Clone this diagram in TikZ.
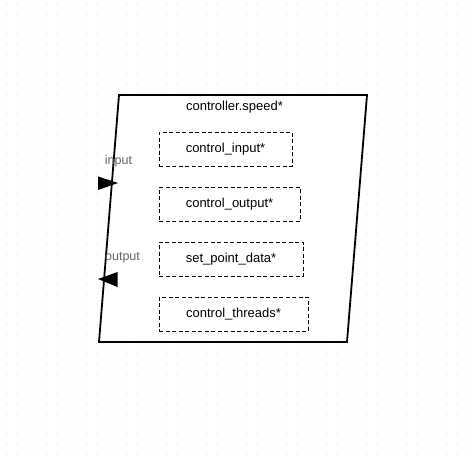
\documentclass[tikz,border=0pt]{standalone}
\usepackage{fontspec}
\setmainfont{Liberation Sans}
\definecolor{dotc}{HTML}{D4D4D4}
\definecolor{labc}{HTML}{666666}
\tikzset{
  member/.style={draw=black, line width=0.9pt, dash pattern=on 4pt off 2.5pt, minimum height=34pt, inner sep=0pt, font=\fontsize{13}{15}\selectfont},
  frame/.style={draw=black, line width=1.8pt, fill=white},
  portlab/.style={text=labc, font=\fontsize{12.5}{14}\selectfont, inner sep=0pt},
  title/.style={font=\fontsize{13}{15}\selectfont, inner sep=0pt},
  port/.style={fill=black}
}
\begin{document}
\begin{tikzpicture}[x=1pt,y=-1pt]
\useasboundingbox (0,0) rectangle (470,455);
\fill[white] (0,0) rectangle (470,455);
\foreach \i in {0,...,46} {\foreach \j in {0,...,45} {\fill[dotc] (7+10*\i,4+10*\j) circle (0.65);}}
% frame
\coordinate (tl) at (119,95);
\coordinate (tr) at (367,95);
\coordinate (br) at (347,342);
\coordinate (bl) at (99,342);
\draw[frame] (tl) -- (tr) -- (br) -- (bl) -- cycle;
\node[title] (ttl) at (234.5,107.5) {controller.speed*};
% members
\node[member, minimum width=133pt] (m1) at (225.5,149) {control\_input*};
\node[member, minimum width=141pt] (m2) at (229.5,204) {control\_output*};
\node[member, minimum width=144pt] (m3) at (231,259) {set\_point\_data*};
\node[member, minimum width=149pt] (m4) at (233.5,314) {control\_threads*};
% ports
\node[portlab] (lin) at (118.5,161) {input};
\node[portlab] (lout) at (122.5,257.5) {output};
\coordinate (pin1) at (98,176.5);
\coordinate (pin2) at (98,190);
\coordinate (pintip) at (118,183);
\fill[port] (pin1) -- (pintip) -- (pin2) -- cycle;
\coordinate (pout1) at (117.5,272);
\coordinate (pout2) at (117.5,287);
\coordinate (pouttip) at (98,279);
\fill[port] (pout1) -- (pouttip) -- (pout2) -- cycle;
\end{tikzpicture}
\end{document}
